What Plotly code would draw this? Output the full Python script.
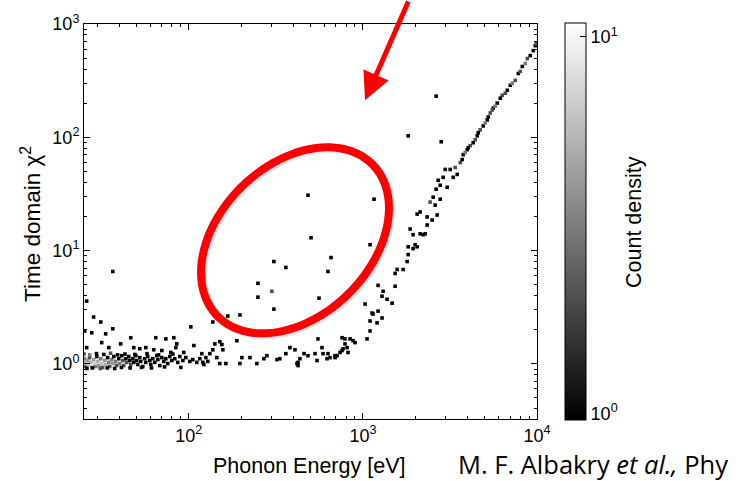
import numpy as np
import plotly.graph_objects as go

# ---------------- data ----------------
# phonon energy [eV]
energy_ev = [
    # dense band near chi2 ~ 1
    25.2, 25.2, 25.5, 26.2, 26.5, 26.9, 27.3, 27.7, 28.4, 28.8, 29.1, 29.6, 30.0, 30.4,
    31.2, 31.6, 32.0, 32.9, 33.3, 34.2, 34.7, 35.1, 36.1, 36.6, 37.1, 38.0, 38.5, 39.6,
    40.1, 41.2, 41.8, 42.3, 43.5, 44.0, 45.2, 45.8, 46.4, 47.7, 48.3, 49.6, 50.2, 50.9,
    52.3, 53.0, 54.4, 55.8, 56.6, 58.1, 59.7, 60.5, 62.1, 63.8, 65.5, 66.4, 68.1, 70.0,
    71.8, 73.8, 75.7, 77.7, 79.8, 83.1, 86.4, 88.8, 92.4, 96.1, 101.3, 105.4, 111.2,
    115.7, 122.0, 128.6,
    25.0, 26.0, 27.0, 28.0, 29.5, 31.0, 32.5, 34.0, 35.5, 37.5, 39.0, 41.0, 43.0, 46.0,
    49.0, 53.5, 57.5, 61.0, 67.0, 72.5, 81.0, 90.0,
    # low-energy scatter above the band
    25.9, 28.4, 31.2, 36.6, 27.7, 33.3, 25.2, 102.7, 46.4, 64.6, 73.8, 82.0, 25.9, 31.6,
    40.6, 34.7, 48.3, 52.3, 56.6, 62.9, 85.3, 84.2, 106.9, 93.6, 78.8, 70.0, 36.6,
    # middle region
    137.4, 167.5, 196.6, 188.8, 249.5, 249.5, 308, 361, 300, 308, 483.6, 1159, 503.5,
    1099, 656, 630, 559.7, 141.1, 150.7, 154.9, 137.4, 156.9, 118.8, 132.1, 125.3, 144.9,
    201.8, 224.4, 281, 270, 320.8, 333.6, 361, 381, 407, 459, 483.6, 435, 424, 418, 530.8,
    544.9, 120.4, 150.7, 163.3, 196.6, 246, 552, 424, 691.8, 759, 789, 821.6, 901, 1143,
    # lower part of the rising branch
    2049, 2133, 2339, 1867, 1942, 2133, 2218, 1820, 1942, 2049, 1820, 1795, 1702, 1572,
    1531, 1222, 1306, 1288, 1377, 1472, 1531, 1029, 1129, 1222, 1288, 1099, 1206, 1099,
    1056, 877.7, 844, 789, 759, 811, 769, 739, 710, 691.8, 647.5, 630, 622, 590, 582,
    2670, 2499, 2339, 2600, 2780, 2969, 2278, 1995,
    # upper rising branch
    2635, 2780, 3049, 3172, 3301, 3480, 3623, 3770, 3975, 4134, 4301, 4536, 4720, 4911,
    5177, 5387, 5605, 5910, 6316, 6750, 7021, 7503, 7808, 8232, 8798, 9151, 9521, 9773,
    2433, 2533, 2706, 2891, 3388, 3718, 3870, 4027, 4416, 4596, 5042, 5248, 5533, 5754,
    6152, 6574, 7210, 8017, 8564, 9907,
    # isolated outliers
    1820, 2818, 2635,
]

# time-domain chi-square
chi2 = [
    1.11, 1.03, 0.946, 1.07, 0.986, 1.135, 1.03, 0.929, 1.09, 1.006, 0.946, 1.16, 1.05, 0.966,
    1.11, 1.006, 0.929, 1.07, 0.986, 1.135, 1.03, 0.946, 1.09, 1.006, 1.16, 1.05, 0.966, 1.11,
    1.006, 1.18, 1.07, 0.966, 1.11, 1.03, 1.16, 1.07, 0.986, 1.11, 1.03, 1.18, 1.07, 0.986,
    1.135, 1.05, 0.946, 1.11, 1.03, 1.16, 1.07, 0.986, 1.11, 1.03, 1.18, 1.09, 0.966, 1.135,
    1.05, 1.11, 1.006, 1.16, 1.07, 1.11, 1.03, 1.16, 1.07, 1.135, 1.05, 1.09, 1.03,
    1.11, 0.986, 1.05,
    1.22, 0.91, 1.20, 0.92, 1.23, 0.91, 1.21, 0.92, 1.24, 0.91, 1.20, 0.93, 1.22, 0.92,
    1.21, 0.93, 1.23, 0.92, 1.20, 0.94, 1.22, 0.93,
    3.58, 2.59, 2.34, 2.04, 1.88, 1.84, 1.95, 2.12, 1.70, 1.70, 1.66, 1.70, 1.39, 1.54,
    1.50, 1.39, 1.39, 1.36, 1.39, 1.33, 1.50, 1.39, 1.45, 1.26, 1.26, 1.31, 6.54,
    2.34, 2.64, 2.70, 1.60, 3.88, 5.14, 8.0, 7.09, 4.37, 3.04, 30.8, 28.4, 12.97,
    11.26, 8.67, 6.54, 3.80, 1.50, 1.57, 1.48, 1.33, 1.33, 1.23, 1.23, 1.135, 1.135,
    1.135, 1.135, 1.18, 1.11, 1.09, 1.11, 1.23, 1.39, 1.33, 1.23, 1.18, 1.11, 1.03, 1.006, 1.23,
    1.07, 1.03, 1.006, 1.006, 1.006, 1.006, 1.66, 0.966, 1.18, 1.31, 1.50, 1.26, 1.54, 2.75,
    21.0, 21.9, 19.8, 15.5, 13.8, 14.05, 13.8, 10.8, 10.4, 10.8, 9.21, 8.0, 6.81, 6.81,
    6.28, 4.93, 4.37, 3.95, 3.72, 3.43, 4.84, 3.37, 2.81, 2.92, 2.54, 2.39, 2.30, 1.95,
    1.66, 1.60, 1.66, 1.66, 1.70, 1.39, 1.36, 1.26, 1.18, 1.135, 1.135, 1.23, 1.11, 1.23, 1.39,
    20.6, 18.6, 16.8, 25.2, 28.4, 52.0, 14.05, 11.26,
    34.8, 37.7, 36.2, 52.0, 44.3, 47.0, 59.8, 70.3, 77.8, 84.3, 89.5, 103, 116.3, 126,
    142.2, 163.8, 181, 200.3, 235, 260, 287.6, 318, 366, 421.7, 495, 526, 582, 643.8,
    26.8, 29.6, 41.7, 44.3, 54.1, 63.6, 73.2, 80.9, 95.1, 109.6, 133.9, 151, 174, 188.4,
    221.3, 244.8, 299.5, 381.3, 448, 670,
    103, 91.3, 230.6,
]

# count density of each cell
density = [
    3, 5, 2, 4, 6, 2, 5, 3, 4, 7, 3, 1, 5, 4,
    3, 6, 2, 4, 5, 1, 3, 2, 3, 4, 1, 3, 2, 1,
    3, 1, 2, 2, 1, 2, 1, 1, 2, 1, 1, 1, 1, 1,
    1, 1, 1, 1, 1, 1, 1, 1, 1, 1, 1, 1, 1, 1,
    1, 1, 1, 1, 1, 1, 1, 1, 1, 1, 1, 1, 1,
    1, 1, 1,
    2, 1, 3, 1, 1, 2, 1, 1, 2, 1, 1, 1, 1, 1,
    1, 1, 1, 1, 1, 1, 1, 1,
    1, 1, 1, 1, 1, 1, 1, 1, 1, 1, 1, 1, 1, 1,
    1, 1, 1, 1, 1, 1, 1, 1, 1, 1, 1, 1, 1,
    1, 1, 1, 1, 1, 1, 1, 1, 2, 1, 1, 1, 1,
    1, 1, 1, 1, 1, 1, 1, 1, 1, 1, 1, 1, 1,
    1, 1, 1, 1, 1, 1, 1, 1, 1, 1, 1, 1, 1, 1, 1,
    1, 1, 1, 1, 1, 1, 1, 1, 1, 1, 1, 1, 1, 1,
    1, 1, 1, 1, 1, 1, 1, 1, 1, 1, 1, 1, 1, 1,
    1, 1, 1, 1, 1, 1, 1, 1, 1, 1, 1, 1, 1, 1,
    1, 1, 1, 1, 1, 1, 1, 1, 1, 1, 1, 1, 1, 1, 1,
    1, 1, 1, 1, 1, 1, 1, 1,
    1, 1, 1, 1, 1, 1, 2, 1, 1, 2, 1, 1, 2, 1,
    1, 2, 1, 1, 2, 1, 1, 2, 1, 1, 2, 1, 1, 1,
    2, 1, 1, 1, 2, 1, 3, 1, 2, 1, 3, 1, 2, 3,
    1, 2, 3, 2, 3, 2,
    1, 1, 1,
]

x_tick_vals = [100, 1000, 10000]
x_tick_text = ["10<sup>2</sup>", "10<sup>3</sup>", "10<sup>4</sup>"]
y_tick_vals = [1, 10, 100, 1000]
y_tick_text = ["10<sup>0</sup>", "10<sup>1</sup>", "10<sup>2</sup>", "10<sup>3</sup>"]
cbar_tick_vals = [0, 1]
cbar_tick_text = ["10<sup>0</sup>", "10<sup>1</sup>"]

x_title = "Phonon Energy [eV]"
y_title = "Time domain χ<sup>2</sup>"
cbar_title = "Count density"
citation = "M. F. Albakry <i>et al.,</i> Phy"

# ---------------- figure ----------------
W, H = 750, 481
L, R, T, B = 84, 213, 20, 62
PW, PH = W - L - R, H - T - B

def px_x(px):
    return (px - L) / PW

def px_y(py):
    return (T + PH - py) / PH

minor_x = [m * 10 ** d for d in range(1, 4) for m in range(2, 10) if m * 10 ** d >= 25]
minor_y = [m * 10 ** d for d in range(-1, 3) for m in range(2, 10) if m * 10 ** d >= 0.33]

log_density = np.log10(np.array(density, dtype=float))
CMIN, CMAX = -0.018, 1.037
CB_X0, CB_X1, CB_Y0, CB_Y1 = 565, 586, 19, 420

fig = go.Figure()
fig.add_trace(go.Scatter(
    x=energy_ev, y=chi2, mode="markers",
    marker=dict(
        symbol="square", size=3.6, line=dict(width=0),
        color=log_density, colorscale=[[0, "#000000"], [1, "#ffffff"]],
        cmin=CMIN, cmax=CMAX,
        colorbar=dict(
            x=px_x(CB_X0), xanchor="left", xpad=0,
            y=0.5, yanchor="middle", ypad=0,
            len=(CB_Y1 - CB_Y0) / PH, lenmode="fraction",
            thickness=CB_X1 - CB_X0, thicknessmode="pixels",
            outlinecolor="black", outlinewidth=1,
            ticks="inside", ticklen=6, tickcolor="black",
            tickvals=cbar_tick_vals, ticktext=cbar_tick_text,
            tickfont=dict(size=18, color="black"),
        ),
    ),
    showlegend=False, hoverinfo="x+y",
))

axis_common = dict(
    type="log", showgrid=False, zeroline=False,
    showline=True, linecolor="black", linewidth=1, mirror="ticks",
    ticks="inside", ticklen=6, tickcolor="black", tickwidth=1,
    tickfont=dict(size=18, color="black"),
)

fig.update_xaxes(
    **axis_common,
    range=[np.log10(25), 4],
    tickmode="array", tickvals=x_tick_vals, ticktext=x_tick_text,
    minor=dict(ticks="inside", ticklen=3, tickcolor="black", tickmode="array", tickvals=minor_x),
)
fig.update_yaxes(
    **axis_common,
    range=[-0.487, 3],
    tickmode="array", tickvals=y_tick_vals, ticktext=y_tick_text,
    minor=dict(ticks="inside", ticklen=3, tickcolor="black", tickmode="array", tickvals=minor_y),
)

# ---------------- red ellipse ----------------
def ellipse_path(cx, cy, a, b, n=120):
    c = s = np.sqrt(0.5)
    pts = []
    for k in range(n + 1):
        t = 2 * np.pi * k / n
        u, v = a * np.cos(t), b * np.sin(t)
        px = cx + u * c - v * s
        py = cy - (u * s + v * c)
        pts.append((px_x(px), px_y(py)))
    return "M " + " L ".join(f"{X:.5f},{Y:.5f}" for X, Y in pts) + " Z"

shapes = [
    dict(type="path", xref="paper", yref="paper", path=ellipse_path(297, 240.5, 109, 76),
         line=dict(color="rgba(0,0,0,0.10)", width=8), layer="above"),
    dict(type="path", xref="paper", yref="paper", path=ellipse_path(295, 238.5, 109, 76),
         line=dict(color="#ff0000", width=8), layer="above"),
]

# colorbar minor ticks (log spaced between 10^0 and 10^1)
for m in range(2, 10):
    frac = (np.log10(m) - CMIN) / (CMAX - CMIN)
    yy = CB_Y1 - frac * (CB_Y1 - CB_Y0)
    shapes.append(dict(type="line", xref="paper", yref="paper",
                       x0=px_x(CB_X1 - 4), x1=px_x(CB_X1), y0=px_y(yy), y1=px_y(yy),
                       line=dict(color="black", width=1)))

annotations = [
    # red arrow
    dict(xref="paper", yref="paper", x=px_x(365), y=px_y(97),
         ax=44, ay=-102, text="", showarrow=True, arrowhead=2, arrowsize=1.1,
         arrowwidth=5, arrowcolor="#ff0000"),
    # axis titles
    dict(xref="paper", yref="paper", x=px_x(309), y=px_y(466), xanchor="center", yanchor="middle",
         text=x_title, showarrow=False, font=dict(size=21.5, color="black")),
    dict(xref="paper", yref="paper", x=px_x(31), y=px_y(222), xanchor="center", yanchor="middle",
         text=y_title, textangle=-90, showarrow=False, font=dict(size=22.5, color="black")),
    dict(xref="paper", yref="paper", x=px_x(634), y=px_y(220), xanchor="center", yanchor="middle",
         text=cbar_title, textangle=-90, showarrow=False, font=dict(size=21.5, color="black")),
    # citation
    dict(xref="paper", yref="paper", x=px_x(456), y=px_y(464),
         xanchor="left", yanchor="middle", showarrow=False, text=citation,
         font=dict(family="Open Sans, Noto Sans, sans-serif", size=25.5, color="black")),
]

fig.update_layout(
    width=W, height=H,
    margin=dict(l=L, r=R, t=T, b=B, pad=0),
    paper_bgcolor="white", plot_bgcolor="white",
    font=dict(family="Liberation Sans, Arial, sans-serif", color="black"),
    shapes=shapes, annotations=annotations,
)

fig.write_html("out.html")
